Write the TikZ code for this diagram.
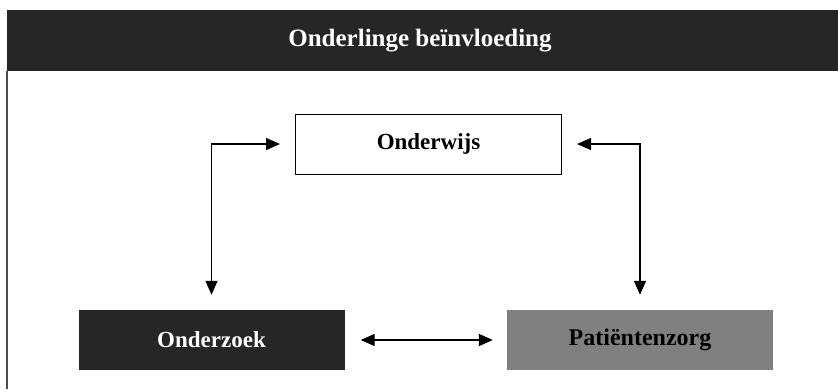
\documentclass[tikz,border=0pt]{standalone}
\usepackage{fontspec}
\setmainfont{Liberation Serif}
\usetikzlibrary{arrows.meta}
\begin{document}
\begin{tikzpicture}[x=1pt, y=-1pt,
  box/.style={minimum width=266pt, minimum height=60pt, inner sep=0pt, font=\fontsize{23}{27}\selectfont\bfseries},
  link/.style={line width=1.4pt, {Triangle[length=14pt,width=12pt]}-{Triangle[length=14pt,width=12pt]}}]

\useasboundingbox (0,0) rectangle (838,389);
\fill[black!85] (7,10) rectangle (838,71);
\draw[line width=1.5pt, black!70] (7,71) -- (7,389);
\node[text=white, font=\fontsize{25}{30}\selectfont\bfseries] (title) at (420,41) {Onderlinge beïnvloeding};

\node[box, draw=black, line width=1pt, fill=white] (wijs) at (428.5,144) {Onderwijs};
\node[box, fill=black!85, text=white] (zoek) at (211.5,340) {Onderzoek};
\node[box, fill=black!50, font=\fontsize{24}{28}\selectfont\bfseries] (zorg) at (640,340) {Patiëntenzorg};

\draw[link] ([yshift=15pt]zoek.north) |- ([xshift=-15pt]wijs.west);
\draw[link] ([yshift=15pt]zorg.north) |- ([xshift=15pt]wijs.east);
\draw[link] ([xshift=16pt]zoek.east) -- ([xshift=-14pt]zorg.west);

\end{tikzpicture}
\end{document}
